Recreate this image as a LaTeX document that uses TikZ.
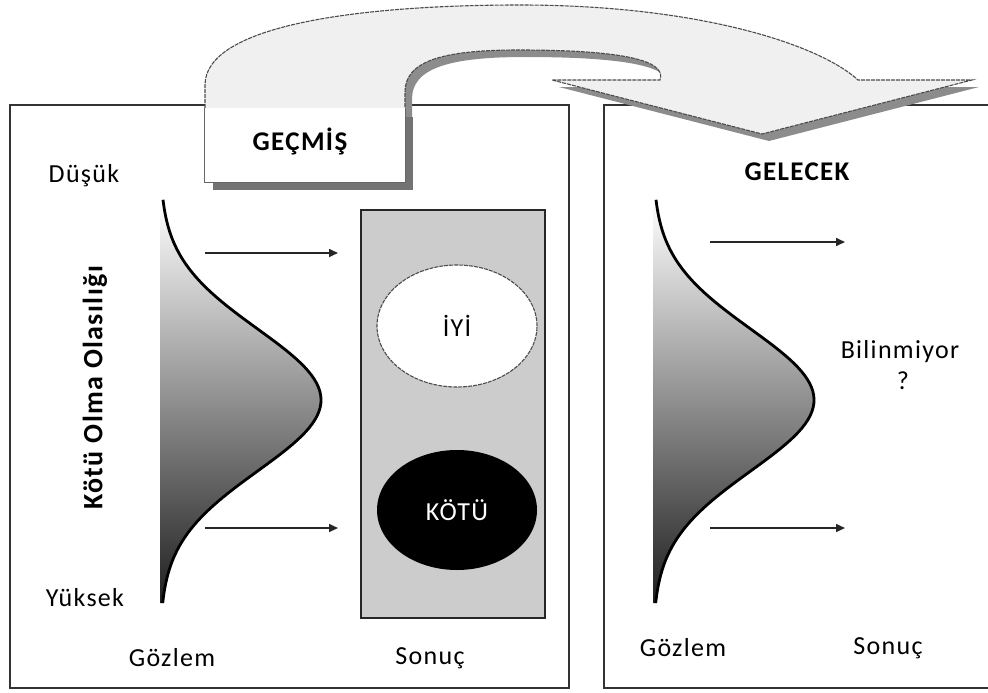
\documentclass[tikz,border=0pt]{standalone}
\usepackage{fontspec}
\setmainfont{Carlito}[LetterSpace=5]
\usetikzlibrary{arrows.meta,shapes.geometric}

\tikzset{
  pics/bigarrow/.style={code={
    \path[pic actions] (205,118) -- (205,85)
      .. controls (205,25) and (360,5) .. (520,5)
      .. controls (700,5) and (820,45) .. (858,80)
      -- (972,80) -- (762,134) -- (552,80) -- (660,80)
      .. controls (668,58) and (610,50) .. (518,50)
      .. controls (440,50) and (405,62) .. (405,92)
      -- (405,118) -- cycle;
  }}
}

\begin{document}
\begin{tikzpicture}[x=1pt,y=-1pt,
  lbl/.style={font=\fontsize{26}{30}\selectfont, text=black, inner sep=0pt},
  hdr/.style={font=\fontsize{27}{31}\selectfont\bfseries, text=black, inner sep=0pt},
  frame/.style={draw=black!80, line width=2pt},
  flow/.style={draw=black!85, line width=1.6pt, -{Triangle[length=9pt,width=8pt]}},
  bell/.style={draw=black, line width=2.8pt},
  outl/.style={draw=black!70, line width=1.1pt, dash pattern=on 4pt off 1pt}]

\useasboundingbox (0,0) rectangle (988,693);

% the two panels (the right one runs off the page)
\draw[frame] (10,105) rectangle (569,688);
\draw[frame] (995,105) -- (604,105) -- (604,688) -- (995,688);

% outcome column of the past panel
\node[draw=black!85, line width=1.6pt, fill=black!20, minimum width=184pt,
      minimum height=408pt, inner sep=0pt] (outcomes) at (453,414) {};
\node[ellipse, fill=white, outl, minimum width=160pt, minimum height=122pt,
      inner sep=0pt, lbl] (good) at (457,326) {İYİ};
\node[ellipse, fill=black, minimum width=160pt, minimum height=120pt,
      inner sep=0pt, lbl, text=white] (bad) at (457,510) {KÖTÜ};

% bell curves of the observation
\foreach \bx in {160,653} {
  \shade[top color=white, middle color=black!42, bottom color=black!88]
    (\bx,200) -- plot[domain=-2.82:2.86, samples=100]
      ({\bx+161*exp(-\x*\x/2)}, {400+71*\x}) -- (\bx,603) -- cycle;
  \draw[bell] plot[domain=-2.82:2.86, samples=100]
      ({\bx+161*exp(-\x*\x/2)}, {400+71*\x});
}

% connectors from observation to outcome
\coordinate (pa1) at (205,253); \coordinate (pb1) at (338,253);
\coordinate (pa2) at (205,528); \coordinate (pb2) at (338,528);
\coordinate (fa1) at (710,242); \coordinate (fb1) at (845,242);
\coordinate (fa2) at (710,528); \coordinate (fb2) at (845,528);
\draw[flow] (pa1) -- (pb1);
\draw[flow] (pa2) -- (pb2);
\draw[flow] (fa1) -- (fb1);
\draw[flow] (fa2) -- (fb2);

% big curved arrow from past to future, with its shadow
\pic[fill=black!45, shift={(7,7)}] {bigarrow};
\pic[fill=black!6, outl] {bigarrow};

% past label box with shadow; its top blends into the arrow
\fill[black!55] (213,117) rectangle (413,190);
\node[fill=white, minimum width=200pt, minimum height=74pt, inner sep=0pt]
  (pastbox) at (305,145) {};
\draw[draw=black!60, line width=1pt]
  (pastbox.north west) -- (pastbox.south west) -- (pastbox.south east) -- (pastbox.north east);
\node[hdr] (gecmis) at (300,141) {GEÇMİŞ};
\node[hdr] (gelecek) at (797,172) {GELECEK};

% labels
\node[lbl] (dusuk) at (84,176) {Düşük};
\node[lbl] (yuksek) at (85,598) {Yüksek};
\node[hdr, font=\fontsize{28}{32}\selectfont\bfseries, rotate=90] (axis) at (95,388) {Kötü Olma Olasılığı};
\node[lbl] (gozlemL) at (172,658) {Gözlem};
\node[lbl] (sonucL) at (430,658) {Sonuç};
\node[lbl] (gozlemR) at (683,648) {Gözlem};
\node[lbl] (sonucR) at (888,648) {Sonuç};
\node[lbl] (bilinm) at (900,352) {Bilinmiyor};
\node[lbl] (soru) at (903,381) {?};
\end{tikzpicture}
\end{document}
